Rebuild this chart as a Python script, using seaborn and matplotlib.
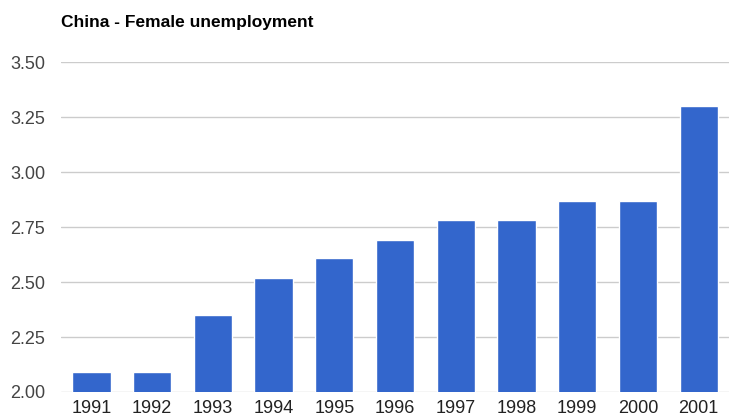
import pandas as pd
import seaborn as sns
import matplotlib.pyplot as plt

# data
years = ["1991", "1992", "1993", "1994", "1995", "1996",
         "1997", "1998", "1999", "2000", "2001"]
unemployment = [2.09, 2.09, 2.35, 2.52, 2.61, 2.69,
                2.78, 2.78, 2.87, 2.87, 3.30]
y_ticks = [2.00, 2.25, 2.50, 2.75, 3.00, 3.25, 3.50]

df = pd.DataFrame({"Year": years, "Rate": unemployment})

sns.set_theme(style="white")
plt.rcParams["font.family"] = ["Liberation Sans", "DejaVu Sans"]

fig = plt.figure(figsize=(7.29, 4.17), dpi=100)
ax = fig.add_axes([0.0837, 0.06, 0.9163, 0.791])

sns.barplot(data=df, x="Year", y="Rate", color="#3366cc",
            saturation=1, width=0.63, ax=ax, zorder=3)

ax.set_ylim(2.0, 3.5)
ax.set_xlim(-0.5, len(years) - 0.5)
ax.set_yticks(y_ticks)
ax.set_yticklabels([f"{t:.2f}" for t in y_ticks])
ax.grid(axis="y", color="#cccccc", linewidth=1, zorder=0)
ax.set_axisbelow(True)
for s in ax.spines.values():
    s.set_visible(False)

ax.tick_params(axis="y", length=0, pad=11.5, labelsize=13, labelcolor="#444444")
ax.tick_params(axis="x", length=0, pad=6, labelsize=13, labelcolor="#222222")
ax.set_xlabel("")
ax.set_ylabel("")

fig.text(0.0837, 0.935, "China - Female unemployment", fontsize=12.5,
         fontweight="bold", color="#000000", ha="left", va="baseline")

fig.savefig("out.png", dpi=100)
